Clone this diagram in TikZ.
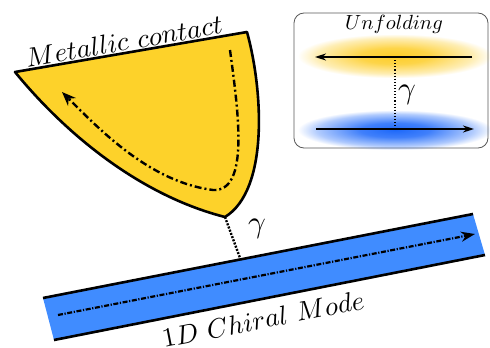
\documentclass[tikz,border=0pt]{standalone}
\usetikzlibrary{arrows.meta,fadings}
\definecolor{metal}{RGB}{253,210,42}
\definecolor{chiral}{RGB}{64,140,255}
\definecolor{glowy}{RGB}{253,205,40}
\definecolor{glowb}{RGB}{30,105,250}
\pgfdeclareradialshading{glowshading}{\pgfpointorigin}{color(0bp)=(pgftransparent!0); color(9bp)=(pgftransparent!15); color(20bp)=(pgftransparent!65); color(25bp)=(pgftransparent!100); color(50bp)=(pgftransparent!100)}
\pgfdeclarefading{glowfade}{\pgfuseshading{glowshading}}
\tikzset{
  edgeline/.style={line width=2.6pt, line join=round},
  flowarrow/.style={line width=2.4pt, dash pattern=on 7pt off 3pt on 2pt off 3pt, -{Stealth[length=14pt,width=11pt]}},
  modearrow/.style={line width=2.2pt, dash pattern=on 5pt off 1.6pt on 1.2pt off 1.6pt, -{Stealth[length=14pt,width=10pt]}},
  tunnel/.style={line width=2.4pt, dash pattern=on 2pt off 1.4pt},
  bigtext/.style={scale=2.7, inner sep=0pt},
  gammatext/.style={scale=3.1, inner sep=0pt},
  insetarrow/.style={line width=1.8pt, -{Stealth[length=11pt,width=7pt]}},
  glowband/.style={path fading=glowfade, fit fading=true}
}
\begin{document}
\begin{tikzpicture}[x=1pt,y=-1pt]
\useasboundingbox (0,0) rectangle (490,348);
% metallic contact
\coordinate (mtl) at (15,72);
\coordinate (mtr) at (247,32);
\coordinate (tip) at (225,217);
\fill[metal] (mtl) -- (mtr) .. controls (263,90) and (269,190) .. (tip) .. controls (150,198) and (75,145) .. cycle;
\draw[edgeline] (mtl) -- (mtr) .. controls (263,90) and (269,190) .. (tip) .. controls (150,198) and (75,145) .. cycle;
\coordinate (fs) at (230,50);
\coordinate (fm) at (213,190);
\coordinate (fe) at (62,92);
\draw[flowarrow] (fs) .. controls (238,110) and (250,192) .. (fm) .. controls (150,182) and (100,130) .. (fe);
\node[bigtext, rotate=9.8] (mlabel) at (124,41) {$Metallic\ contact$};
% chiral strip
\coordinate (sa) at (43,298);
\coordinate (sb) at (473,214);
\coordinate (sc) at (485,255);
\coordinate (sd) at (54,340);
\fill[chiral] (sa) -- (sb) -- (sc) -- (sd) -- cycle;
\draw[edgeline] (sa) -- (sb);
\draw[edgeline] (sd) -- (sc);
\coordinate (ms) at (58,315);
\coordinate (me) at (475,234);
\draw[modearrow] (ms) -- (me);
\node[bigtext, rotate=11] (slabel) at (263,319) {$1D\ Chiral\ Mode$};
% tunnelling
\coordinate (stop) at (240,258);
\draw[tunnel] (tip) -- (stop);
\node[gammatext] (g1) at (257,229) {$\gamma$};
% inset
\draw[gray!70!black, line width=0.8pt, rounded corners=10pt] (294,13) rectangle (488,148);
\node[scale=2.05, inner sep=0pt] (ulabel) at (394,24) {$Unfolding$};
\fill[glowy, glowband] (298,34) rectangle (492,78);
\fill[glowb, glowband] (298,110) rectangle (492,150);
\coordinate (ya) at (472,57);
\coordinate (yb) at (315,57);
\coordinate (ba) at (316,129);
\coordinate (bb) at (474,129);
\coordinate (dt) at (395,57);
\coordinate (db) at (395,127);
\draw[line width=1.1pt, dotted] (dt) -- (db);
\draw[insetarrow] (ya) -- (yb);
\draw[insetarrow] (ba) -- (bb);
\node[gammatext] (g2) at (407,95) {$\gamma$};
\end{tikzpicture}
\end{document}
